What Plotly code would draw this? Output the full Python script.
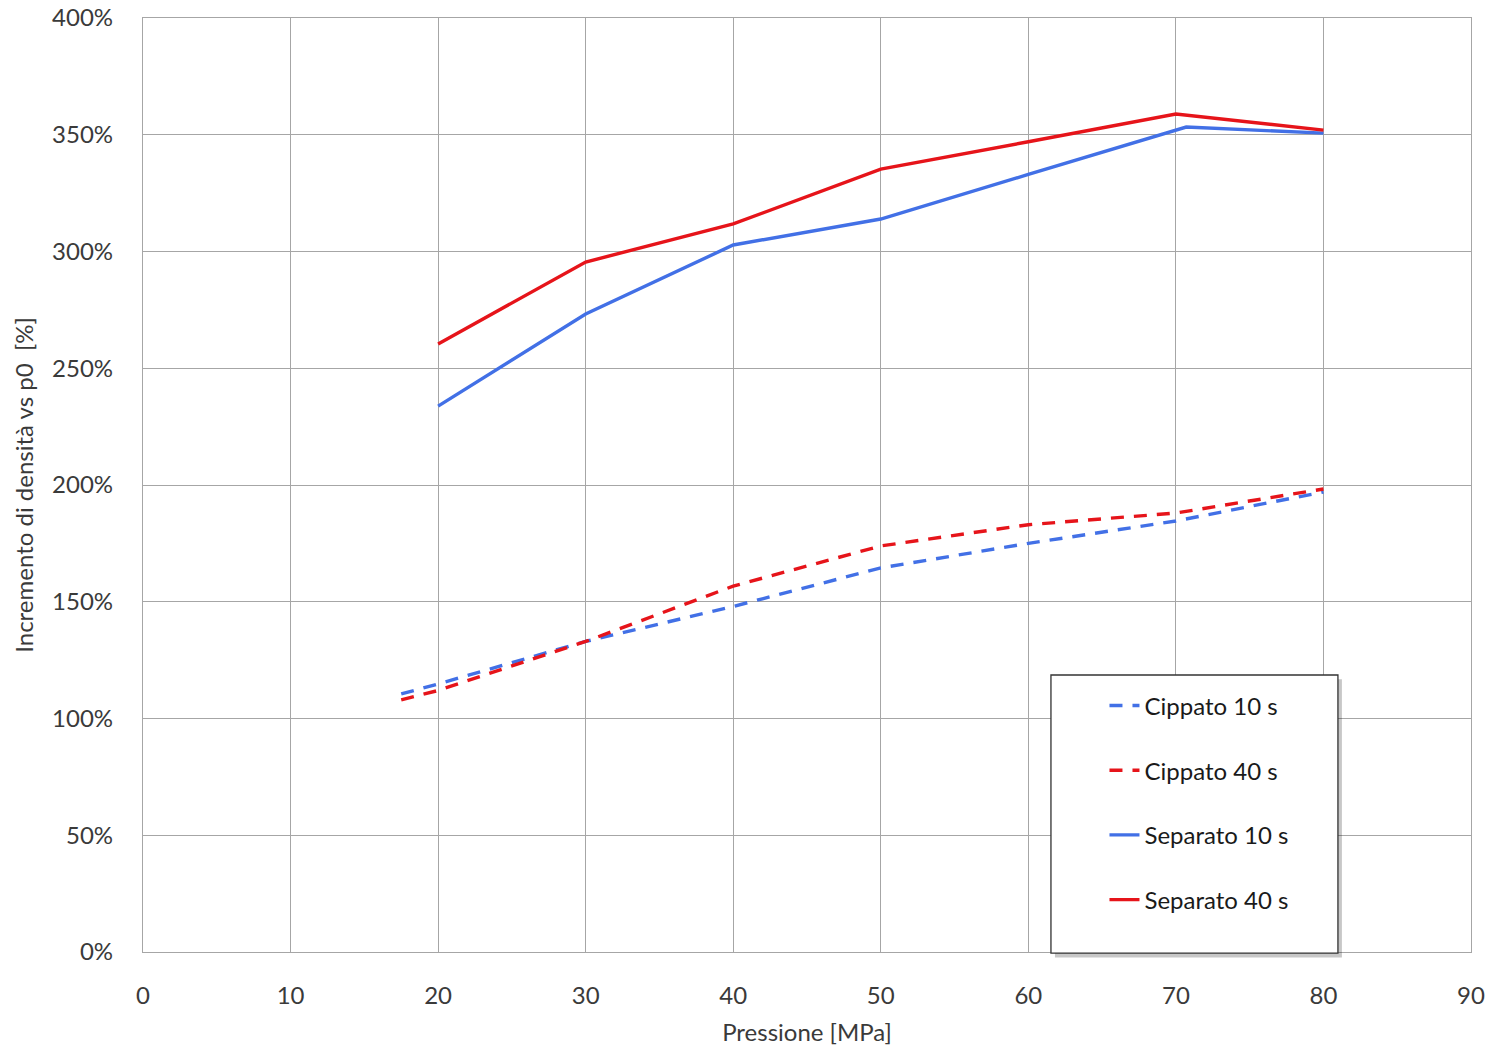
import plotly.graph_objects as go

# Data
x_cip = [17.5, 20, 30, 40, 50, 60, 70, 80]
cip10 = [110.5, 114.8, 133, 148, 164.5, 175, 184.6, 197]
cip40 = [108, 112, 133, 156.7, 173.9, 183, 188, 198.3]

x_sep10 = [20, 30, 40, 50, 60, 70.7, 80]
sep10 = [233.8, 273.2, 302.8, 313.9, 333, 353.3, 350.7]
x_sep40 = [20, 30, 40, 50, 60, 70, 80]
sep40 = [260.4, 295.5, 311.8, 335.3, 347, 358.9, 352]

x_ticks = list(range(0, 91, 10))
y_ticks = list(range(0, 401, 50))
y_ticklabels = [f"{v}%" for v in y_ticks]

BLUE = "#4270E6"
RED = "#E6141A"
FONT = "Lato, 'Open Sans', sans-serif"
TXT = "#3a3a3a"

fig = go.Figure()
fig.add_trace(go.Scatter(x=x_cip, y=cip10, mode="lines", name="Cippato 10 s",
                         legendgroup="a",
                         line=dict(color=BLUE, width=3.4, dash="13px,10px")))
fig.add_trace(go.Scatter(x=x_cip, y=cip40, mode="lines", name="Cippato 40 s",
                         legendgroup="b",
                         line=dict(color=RED, width=3.4, dash="13px,10px")))
fig.add_trace(go.Scatter(x=x_sep10, y=sep10, mode="lines", name="Separato 10 s",
                         legendgroup="c",
                         line=dict(color=BLUE, width=3.4)))
fig.add_trace(go.Scatter(x=x_sep40, y=sep40, mode="lines", name="Separato 40 s",
                         legendgroup="d",
                         line=dict(color=RED, width=3.4)))

# legend box with shadow
fig.add_shape(type="rect", xref="paper", yref="paper",
              x0=0.6867, x1=0.9028, y0=-0.0060, y1=0.2920,
              fillcolor="rgba(0,0,0,0.22)", line=dict(width=0), layer="above")
fig.add_shape(type="rect", xref="paper", yref="paper",
              x0=0.6837, x1=0.8998, y0=-0.0011, y1=0.2966,
              fillcolor="white", line=dict(color="#333", width=1.3), layer="above")

fig.update_layout(
    width=1494, height=1046,
    margin=dict(l=143, r=23, t=18, b=94, autoexpand=False),
    paper_bgcolor="white", plot_bgcolor="white",
    font=dict(family=FONT, size=24, color=TXT),
    showlegend=True,
    legend=dict(x=0.7240, y=0.2876, xanchor="left", yanchor="top",
                bgcolor="rgba(0,0,0,0)", borderwidth=0,
                traceorder="grouped", tracegroupgap=30.5,
                font=dict(family=FONT, size=24, color="#1a1a1a"),
                itemwidth=30),
    xaxis=dict(range=[0, 90], tickvals=x_ticks, ticktext=[str(v) for v in x_ticks],
               showgrid=True, gridcolor="#A6A6A6", gridwidth=1.3,
               showline=True, linecolor="#A6A6A6", linewidth=1.3, mirror=True,
               zeroline=False, ticks="", ticklen=0, automargin=False,
               ticklabelstandoff=22, ticklabeloverflow="allow",
               tickfont=dict(size=24, color=TXT),
               title=dict(text="Pressione [MPa]", standoff=17,
                          font=dict(size=24, color=TXT))),
    yaxis=dict(range=[0, 400], tickvals=y_ticks, ticktext=y_ticklabels,
               showgrid=True, gridcolor="#A6A6A6", gridwidth=1.3,
               showline=True, linecolor="#A6A6A6", linewidth=1.3, mirror=True,
               zeroline=False, ticks="", ticklen=0, automargin=False,
               ticklabelstandoff=24, ticklabeloverflow="allow",
               tickfont=dict(size=24, color=TXT),
               title=dict(text="Incremento di densità vs p0  [%]", standoff=11,
                          font=dict(size=24, color=TXT))),
)
fig.write_html("out.html",
               config={"displayModeBar": False},
               post_script="document.body.style.margin='0';document.body.style.overflow='hidden';")
